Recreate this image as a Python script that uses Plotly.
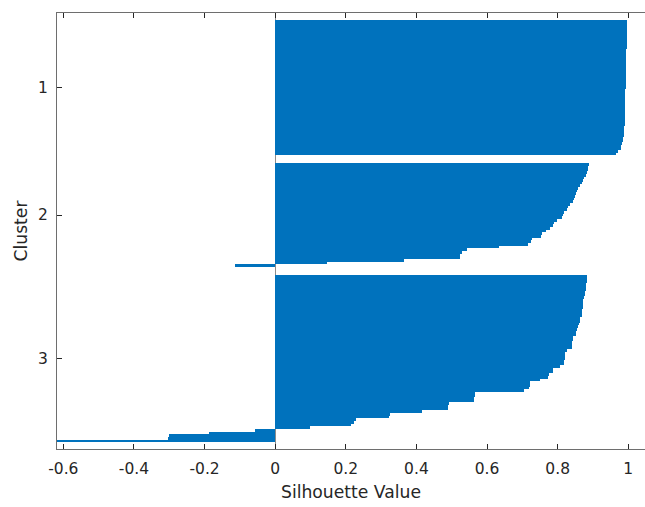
import plotly.graph_objects as go

# Silhouette values per cluster, sorted in descending order
cluster_names = ["1", "2", "3"]

sil_1 = [0.996, 0.996, 0.996, 0.996, 0.995, 0.995, 0.995, 0.995, 0.995, 0.995,
         0.995, 0.994, 0.994, 0.994, 0.994, 0.994, 0.994, 0.994, 0.993, 0.993,
         0.993, 0.993, 0.993, 0.993, 0.993, 0.993, 0.992, 0.992, 0.992, 0.992,
         0.992, 0.992, 0.991, 0.991, 0.991, 0.991, 0.991, 0.990, 0.990, 0.990,
         0.989, 0.988, 0.988, 0.987, 0.985, 0.984, 0.982, 0.980, 0.978, 0.970,
         0.966]

sil_2 = [0.888, 0.887, 0.886, 0.884, 0.881, 0.875, 0.872, 0.868, 0.862, 0.858,
         0.854, 0.851, 0.848, 0.845, 0.842, 0.836, 0.830, 0.826, 0.819, 0.815,
         0.811, 0.799, 0.790, 0.786, 0.778, 0.766, 0.756, 0.752, 0.727, 0.725,
         0.716, 0.634, 0.544, 0.530, 0.524, 0.522, 0.364, 0.148, -0.114]

sil_3 = [0.884, 0.883, 0.882, 0.881, 0.880, 0.879, 0.877, 0.876, 0.875, 0.872,
         0.872, 0.871, 0.871, 0.870, 0.870, 0.869, 0.864, 0.862, 0.859, 0.857,
         0.854, 0.853, 0.852, 0.842, 0.842, 0.841, 0.841, 0.840, 0.827, 0.821,
         0.820, 0.820, 0.819, 0.819, 0.806, 0.788, 0.786, 0.774, 0.772, 0.751,
         0.722, 0.721, 0.720, 0.704, 0.566, 0.565, 0.564, 0.563, 0.491, 0.490,
         0.489, 0.415, 0.324, 0.322, 0.229, 0.2235, 0.215, 0.098, -0.057, -0.188,
         -0.301, -0.303, -0.618]

x_ticks = [-0.6, -0.4, -0.2, 0, 0.2, 0.4, 0.6, 0.8, 1]
x_tick_labels = ["-0.6", "-0.4", "-0.2", "0", "0.2", "0.4", "0.6", "0.8", "1"]

clusters = [sil_1, sil_2, sil_3]

# Stack the bars with empty slots between clusters (like MATLAB's silhouette)
n_total = sum(len(c) for c in clusters)
space = max(int(0.02 * n_total), 2)

ys, xs, tick_pos = [], [], []
pos = space + 1
for vals in clusters:
    start = pos
    for v in vals:
        ys.append(pos)
        xs.append(v)
        pos += 1
    tick_pos.append((start + pos - 1) / 2)
    pos += space
y_max = pos - 1

xmin = min(min(xs), -0.1)

fig = go.Figure(
    go.Bar(
        x=xs,
        y=ys,
        orientation="h",
        width=1.0,
        marker=dict(color="#0072BD", line=dict(width=0)),
        hoverinfo="x",
    )
)

axis_color = "#262626"
font_family = "DejaVu Sans, Liberation Sans, Arial, sans-serif"

fig.update_layout(
    width=645,
    height=507,
    margin=dict(l=57, r=0, t=13, b=58),
    paper_bgcolor="white",
    plot_bgcolor="white",
    showlegend=False,
    bargap=0,
    font=dict(family=font_family, color=axis_color, size=15.5),
    xaxis=dict(
        range=[xmin, 1.0473],
        tickvals=x_ticks,
        ticktext=x_tick_labels,
        ticks="inside",
        ticklen=5,
        tickwidth=1,
        tickcolor=axis_color,
        ticklabelstandoff=5,
        showline=True,
        linecolor="#6e6e6e",
        linewidth=1,
        mirror="ticks",
        showgrid=False,
        zeroline=True,
        zerolinecolor="#8c8c8c",
        zerolinewidth=1,
        tickfont=dict(size=15.5),
        title=dict(text="Silhouette Value", font=dict(size=17.2), standoff=9),
    ),
    yaxis=dict(
        range=[y_max, 1],
        tickvals=tick_pos,
        ticktext=cluster_names,
        ticks="inside",
        ticklen=5,
        tickwidth=1,
        tickcolor=axis_color,
        ticklabelstandoff=5,
        showline=True,
        linecolor="#6e6e6e",
        linewidth=1,
        mirror=False,
        showgrid=False,
        zeroline=False,
        tickfont=dict(size=15.5),
        title=dict(text="Cluster", font=dict(size=17.2), standoff=6),
    ),
)

fig.write_html("out.html")
